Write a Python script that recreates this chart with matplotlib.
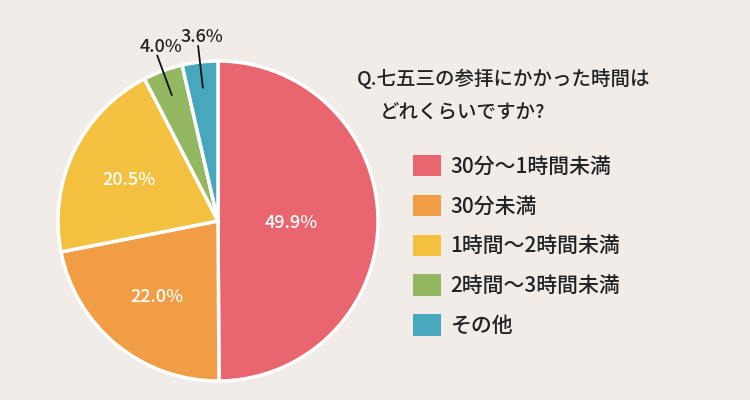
import numpy as np
import matplotlib.pyplot as plt
from matplotlib.patches import Patch

plt.rcParams['font.family'] = ['Noto Sans CJK JP', 'DejaVu Sans']
plt.rcParams['font.weight'] = 'medium'

# data
categories = ["30分～1時間未満", "30分未満", "1時間～2時間未満", "2時間～3時間未満", "その他"]
shares = [49.9, 22.0, 20.5, 4.0, 3.6]
colors = ["#e9656f", "#f09d45", "#f4c040", "#94b862", "#47a7bd"]
title_lines = ["Q.七五三の参拝にかかった時間は", "どれくらいですか?"]

# label radius per slice (None = outside with leader line)
label_r = [0.46, 0.60, 0.62, None, None]

bg = "#f1ece8"
fig = plt.figure(figsize=(7.5, 4.0), dpi=100, facecolor=bg)
ax = fig.add_axes([218 / 750 - 160 / 750, 1 - 221 / 400 - 160 / 400, 320 / 750, 320 / 400])
ax.set_facecolor(bg)

wedges, _ = ax.pie(shares, colors=colors, startangle=90, counterclock=False,
                   wedgeprops=dict(edgecolor="white", linewidth=2.5))
ax.set_xlim(-1, 1)
ax.set_ylim(-1, 1)
ax.set_aspect("equal")

for w, v, r in zip(wedges, shares, label_r):
    mid = np.deg2rad((w.theta1 + w.theta2) / 2)
    txt = f"{v:.1f}%"
    if r is not None:
        ax.text(r * np.cos(mid), r * np.sin(mid), txt, ha="center", va="center_baseline",
                color="white", fontsize=13)
    else:
        c, s = np.cos(mid), np.sin(mid)
        ax.plot([0.84 * c, 1.1 * c], [0.84 * s, 1.1 * s], color="#111111", lw=1.3,
                clip_on=False)
        ax.annotate(txt, xy=(1.1 * c, 1.1 * s), xytext=(2.5, 0),
                    textcoords="offset points", ha="center", va="bottom",
                    fontsize=13, color="#222222", annotation_clip=False)

fig.text(357 / 750, 1 - 79 / 400, title_lines[0], ha="left", va="center",
         fontsize=14, color="#222222")
fig.text(380 / 750, 1 - 112 / 400, title_lines[1], ha="left", va="center",
         fontsize=14, color="#222222")

handles = [Patch(facecolor=c, edgecolor="none") for c in colors]
fig.legend(handles, categories, loc="upper left",
           bbox_to_anchor=(413 / 750, 1 - 155 / 400), frameon=False,
           fontsize=15, handlelength=1.35, handleheight=1.2,
           handletextpad=0.45, labelspacing=0.82, borderpad=0, borderaxespad=0,
           labelcolor="#222222")

fig.savefig("out.png", dpi=100, facecolor=bg)
